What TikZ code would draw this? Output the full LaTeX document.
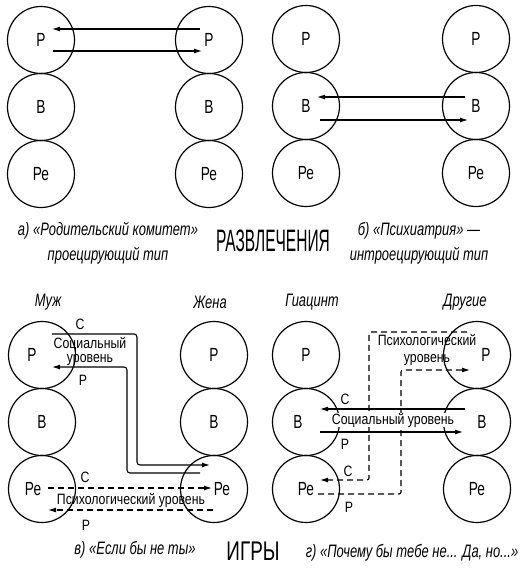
\documentclass[tikz,border=0pt]{standalone}
\usepackage{fontspec}
\setmainfont{Liberation Sans}
\newfontfamily\egofont[FakeStretch=0.72]{Liberation Sans}
\newfontfamily\notefont[FakeStretch=0.82]{Liberation Sans}
\newfontfamily\capfont[FakeStretch=0.72]{Liberation Sans}
\newfontfamily\bigfont[FakeStretch=0.5]{Liberation Sans}
\newfontfamily\gamefont[FakeStretch=0.7]{Liberation Sans}
\usetikzlibrary{arrows.meta}

\tikzset{
  ego/.style={draw,circle,minimum size=67bp,inner sep=0,line width=1.2bp,
    font=\egofont\fontsize{19bp}{21bp}\selectfont},
  egotext/.style={font=\egofont\fontsize{19bp}{21bp}\selectfont,inner sep=0},
  who/.style={font=\capfont\itshape\fontsize{18bp}{20bp}\selectfont,inner sep=0},
  note/.style={font=\notefont\fontsize{15bp}{14bp}\selectfont,inner sep=1bp,align=center},
  caption/.style={font=\capfont\itshape\fontsize{18bp}{25bp}\selectfont,inner sep=0,align=center},
  level/.style={line width=1.1bp},
  psylevel/.style={line width=1.1bp,dash pattern=on 6bp off 4bp},
}

\begin{document}
\begin{tikzpicture}[x=1bp,y=-1bp,>={Latex[length=8bp,width=5bp]}]
    \useasboundingbox (0,0) rectangle (525,575);
    \def\distance{67}
    % а) Родительский комитет
        \node[ego] (aP1) at (41,40) {Р};
        \path (aP1) ++(0,\distance) node[ego] (aB1) {В};
        \path (aB1) ++(0,\distance) node[ego] (aRe1) {Ре};
        \node[ego] (aP2) at (209,40) {Р};
        \path (aP2) ++(0,\distance) node[ego] (aB2) {В};
        \path (aB2) ++(0,\distance) node[ego] (aRe2) {Ре};
    \draw[level,->] ([shift={(-9,-11)}]aP2.center) -- ([shift={(11,-11)}]aP1.center);
    \draw[level,->] ([shift={(12,11)}]aP1.center) -- ([shift={(-7,11)}]aP2.center);

    % б) Психиатрия
        \node[ego] (bP1) at (306,39) {Р};
        \path (bP1) ++(0,\distance) node[ego] (bB1) {В};
        \path (bB1) ++(0,\distance) node[ego] (bRe1) {Ре};
        \node[ego] (bP2) at (476,39) {Р};
        \path (bP2) ++(0,\distance) node[ego] (bB2) {В};
        \path (bB2) ++(0,\distance) node[ego] (bRe2) {Ре};
    \draw[level,->] ([shift={(-11,-9)}]bB2.center) -- ([shift={(11,-9)}]bB1.center);
    \draw[level,->] ([shift={(14,14)}]bB1.center) -- ([shift={(-8,14)}]bB2.center);

    \node[caption] (capA) at (108,243) {а) «Родительский комитет»\\проецирующий тип};
    \node[caption] (capB) at (419,243) {б) «Психиатрия» —\\интроецирующий тип};
    \node[font=\bigfont\fontsize{31bp}{31bp}\selectfont,inner sep=0] (fun) at (273,241) {РАЗВЛЕЧЕНИЯ};

    % в) Если бы не ты
    \node[who] (husband) at (48,302) {Муж};
    \node[who] (wife) at (210,302) {Жена};
        \node[ego] (cP1) at (42,355) {};
        \path (cP1) ++(0,\distance) node[ego] (cB1) {В};
        \path (cB1) ++(0,\distance) node[ego] (cRe1) {};
        \node[ego] (cP2) at (214,355) {Р};
        \path (cP2) ++(0,\distance) node[ego] (cB2) {В};
        \path (cB2) ++(0,\distance) node[ego] (cRe2) {};
    \node[egotext] (cP1t) at ([xshift=-10]cP1.center) {Р};
    \node[egotext] (cRe1t) at ([xshift=-9]cRe1.center) {Ре};
    \node[egotext] (cRe2t) at ([xshift=8]cRe2.center) {Ре};
    \draw[level,->,rounded corners=3bp] ([shift={(10,-21)}]cP1.center)
        -| ([shift={(-77,-24)}]cRe2.center) -- ([shift={(-4,-24)}]cRe2.center);
    \draw[level,->,rounded corners=3bp] ([shift={(-14,-16)}]cRe2.center)
        -| ([shift={(85,12)}]cP1.center) -- ([shift={(10,12)}]cP1.center);
    \node[note] (cS1) at (80,324) {С};
    \node[note] (cSoc) at (90,351) {Социальный\\уровень};
    \node[note] (cR1) at (83,380) {Р};
    \draw[psylevel,->] ([shift={(6,-1)}]cRe1.center) -- ([shift={(-2,-1)}]cRe2.center);
    \draw[psylevel,->] ([shift={(-1,21)}]cRe2.center) -- ([shift={(6,21)}]cRe1.center);
    \node[note] (cS2) at (85,477) {С};
    \node[note] (cPsy) at (131,500) {Психологический уровень};
    \node[note] (cR2) at (86,525) {Р};

    % г) Почему бы тебе не... Да, но...
    \node[who] (hyacinth) at (312,302) {Гиацинт};
    \node[who] (others) at (465,302) {Другие};
        \node[ego] (dP1) at (306,355) {Р};
        \path (dP1) ++(0,\distance) node[ego] (dB1) {};
        \path (dB1) ++(0,\distance) node[ego] (dRe1) {Ре};
        \node[ego] (dP2) at (477,355) {};
        \path (dP2) ++(0,\distance) node[ego] (dB2) {};
        \path (dB2) ++(0,\distance) node[ego] (dRe2) {Ре};
    \node[egotext] (dB1t) at ([xshift=-8]dB1.center) {В};
    \node[egotext] (dP2t) at ([xshift=9]dP2.center) {Р};
    \node[egotext] (dB2t) at ([xshift=5]dB2.center) {В};
    \draw[psylevel,->,rounded corners=2bp] ([shift={(-10,-23)}]dP2.center)
        -| ([shift={(63,-9)}]dRe1.center) -- ([shift={(14,-9)}]dRe1.center);
    \draw[psylevel,->,rounded corners=2bp] ([shift={(12,5)}]dRe1.center)
        -| ([shift={(-76,15)}]dP2.center) -- ([shift={(-7,15)}]dP2.center);
    \draw[level,->] ([shift={(-12,-13)}]dB2.center) -- ([shift={(14,-13)}]dB1.center);
    \draw[level,->] ([shift={(14,10)}]dB1.center) -- ([shift={(-14,10)}]dB2.center);
    \node[note,fill=white,inner ysep=0] (dSoc) at (393,420) {Социальный уровень};
    \node[note] (dS1) at (345,399) {С};
    \node[note] (dR1) at (345,444) {Р};
    \node[note,font=\notefont\fontsize{15bp}{17bp}\selectfont] (dPsy) at (427,350) {Психологический\\уровень};
    \node[note] (dS2) at (348,471) {С};
    \node[note] (dR2) at (349,507) {Р};

    \node[caption] (capC) at (135,550) {в) «Если бы не ты»};
    \node[font=\gamefont\fontsize{27bp}{27bp}\selectfont,inner sep=0] (games) at (253,551) {ИГРЫ};
    \node[caption] (capD) at (412,553) {г) «Почему бы тебе не... Да, но...»};
\end{tikzpicture}
\end{document}
